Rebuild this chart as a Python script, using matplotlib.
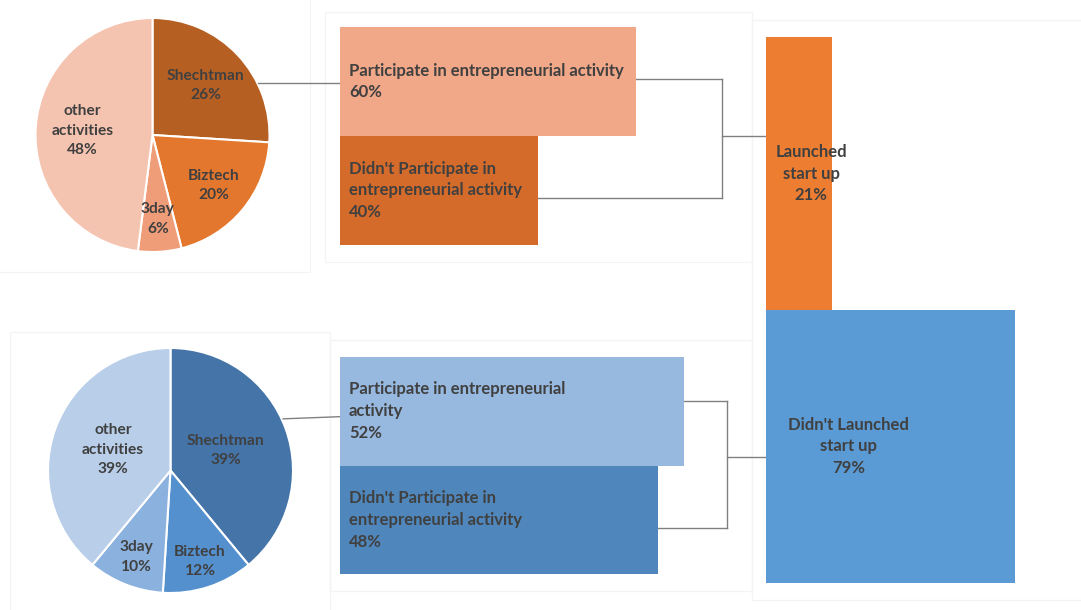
import matplotlib.pyplot as plt
import numpy as np
from matplotlib.patches import Rectangle

W, H, DPI = 1081, 610, 100

# pie data (share of participants by activity)
pie_labels = ["Shechtman", "Biztech", "3day", "other\nactivities"]
pie_launched = [26, 20, 6, 48]
pie_not_launched = [39, 12, 10, 39]

# bar data
bar_labels_top = ["Participate in entrepreneurial activity",
                  "Didn't Participate in\nentrepreneurial activity"]
bar_labels_bot = ["Participate in entrepreneurial\nactivity",
                  "Didn't Participate in\nentrepreneurial activity"]
bar_launched = [60, 40]
bar_not_launched = [52, 48]

# outcome mosaic
outcome_labels = ["Launched\nstart up", "Didn't Launched\nstart up"]
outcome_pct = [21, 79]

TXT = "#404040"
LINE = "#808080"
FONT = ["Lato", "DejaVu Sans"]

orange_pie = ["#B65F23", "#E4772E", "#EF9C78", "#F5C4B0"]
blue_pie = ["#4474A8", "#5490CD", "#8BB1DE", "#B8CEE9"]
orange_bars = ["#F0A888", "#D56B2A"]
blue_bars = ["#97B9E0", "#4F87BC"]
outcome_colors = ["#ED7D31", "#5B9BD5"]

plt.rcParams["font.family"] = FONT

fig = plt.figure(figsize=(W / DPI, H / DPI), dpi=DPI)


def px_axes(x0, y0, x1, y1):
    # axes from pixel box (top-left origin)
    return fig.add_axes([x0 / W, 1 - y1 / H, (x1 - x0) / W, (y1 - y0) / H])


# faint panel borders
bg = px_axes(0, 0, W, H)
bg.set_xlim(0, W)
bg.set_ylim(H, 0)
bg.axis("off")
for (x0, y0, x1, y1) in [(-2, -2, 310, 272), (325, 12, 752, 262), (10, 332, 330, 615),
                         (330, 340, 752, 591), (752, 20, 1083, 600)]:
    bg.add_patch(Rectangle((x0, y0), x1 - x0, y1 - y0, fill=False, ec="#F4F4F4", lw=0.9))


def draw_pie(box, values, colors, dists):
    ax = px_axes(*box)
    wedges, _ = ax.pie(values, colors=colors, startangle=90, counterclock=False,
                       radius=1, wedgeprops=dict(edgecolor="white", linewidth=1.5))
    ax.set_xlim(-1, 1)
    ax.set_ylim(-1, 1)
    for w, lab, v, d in zip(wedges, pie_labels, values, dists):
        ang = np.deg2rad((w.theta1 + w.theta2) / 2)
        ax.text(d * np.cos(ang), d * np.sin(ang), f"{lab}\n{v}%", ha="center", va="center",
                fontsize=11.2, fontweight="bold", color=TXT, linespacing=1.5)
    return ax


draw_pie((35.5, 18, 269.5, 252), pie_launched, orange_pie, [0.62, 0.68, 0.72, 0.6])
draw_pie((48, 348, 293, 593), pie_not_launched, blue_pie, [0.48, 0.78, 0.76, 0.5])


def draw_bars(box, values, labels, colors, xmax, pie_x, pie_y, brk_x, brk_y, mid_y):
    ax = px_axes(*box)
    y = np.arange(len(values))
    ax.barh(y, values, height=1, color=colors, zorder=2)
    ax.set_xlim(0, xmax)
    ax.set_ylim(len(values) - 0.5, -0.5)
    ax.axis("off")
    for yi, v, lab in zip(y, values, labels):
        ax.annotate(f"{lab}\n{v}%", xy=(0, yi), xytext=(6.5, 0), textcoords="offset points",
                    ha="left", va="center", fontsize=12, fontweight="bold", color=TXT,
                    linespacing=1.45, zorder=3)
    kw = dict(color=LINE, lw=1, clip_on=False, zorder=1)
    # connector from pie
    ax.plot([pie_x, 0], pie_y, **kw)
    # bracket joining both bars
    for v, by in zip(values, brk_y):
        ax.plot([v, brk_x], [by, by], **kw)
    ax.plot([brk_x, brk_x], brk_y, **kw)
    ax.plot([brk_x, xmax], [mid_y, mid_y], **kw)
    return ax


draw_bars((340, 27, 766, 245), bar_launched, bar_labels_top, orange_bars,
          426 / 4.94, -16.6, [0.01, 0.01], 77.3, [-0.02, 1.07], 0.5)
draw_bars((340, 357, 766, 574), bar_not_launched, bar_labels_bot, blue_bars,
          426 / 6.62, -8.6, [0.07, 0.05], 58.5, [-0.09, 1.08], 0.42)

# outcome mosaic
ax = px_axes(766, 37, 1081, 583)
ax.bar([0, 0], [1, 1], width=outcome_pct, bottom=[0, 1], align="edge", color=outcome_colors)
ax.set_xlim(0, 100)
ax.set_ylim(2, 0)
ax.axis("off")
for i, (lab, p, tx) in enumerate(zip(outcome_labels, outcome_pct, [14.3, 26.3])):
    ax.text(tx, i + 0.5, f"{lab}\n{p}%", ha="center", va="center", fontsize=12,
            fontweight="bold", color=TXT, linespacing=1.45)

fig.savefig("out.png", dpi=DPI)
